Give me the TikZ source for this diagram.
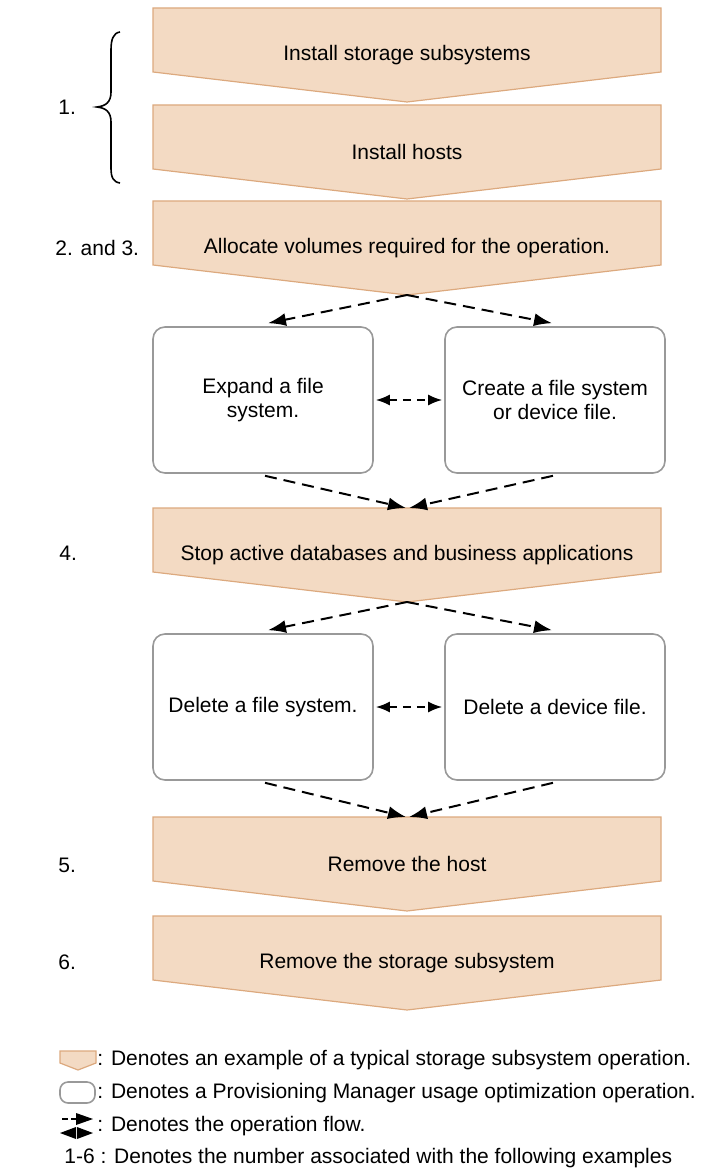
\documentclass[tikz,border=0pt]{standalone}
\usepackage{fontspec}
\setmainfont{Liberation Sans}
\usetikzlibrary{arrows.meta,calc}
\definecolor{pfill}{HTML}{F3DAC3}
\definecolor{pedge}{HTML}{DCA97E}
\definecolor{bedge}{HTML}{999999}
\newcommand{\mypent}[3]{%
  \draw[pent] (153,#2) -- (661,#2) -- (661,#2+64) -- (407,#2+94) -- (153,#2+64) -- cycle;
  \node[txt] (#1) at (407,#2+47) {#3};
  \coordinate (#1top) at (407,#2);
  \coordinate (#1tip) at (407,#2+94);
}
\begin{document}
\begin{tikzpicture}[x=0.5pt,y=-0.5pt,
  pent/.style={fill=pfill,draw=pedge,line width=0.6pt,line join=miter},
  txt/.style={font=\fontsize{10.5}{12}\selectfont,inner sep=0pt,text=black},
  lbl/.style={txt,anchor=west},
  opbox/.style={draw=bedge,line width=0.8pt,rounded corners=6pt,minimum width=110pt,
    minimum height=73pt,fill=white,align=center,inner sep=0pt,
    font=\fontsize{10.5}{12}\selectfont},
  flow/.style={dash pattern=on 6pt off 3.5pt,line width=1pt,-{Latex[length=9pt,width=6.5pt]}},
  flowboth/.style={dash pattern=on 4pt off 3pt,line width=1pt,{Latex[length=7pt,width=5.5pt]}-{Latex[length=7pt,width=5.5pt]}},
]
\useasboundingbox (0,0) rectangle (714,1170);

% pentagons
\mypent{p1}{8}{Install storage subsystems}
\mypent{p2}{105}{Install hosts}
\mypent{p3}{201}{Allocate volumes required for the operation.}
\mypent{p4}{508}{Stop active databases and business applications}
\mypent{p5}{817}{Remove the host}
\mypent{p6}{916}{Remove the storage subsystem}

% step labels
\draw[line width=0.8pt] (120,32) .. controls (113,33) and (111,40) .. (111,50) -- (111,92)
  .. controls (111,102) and (106,106) .. (97,107) .. controls (106,108) and (111,112) .. (111,122)
  -- (111,168) .. controls (111,177) and (113,182) .. (120,183);
\node[lbl] (l1) at (58,107) {1.};
\node[lbl] (l23) at (55,248) {2. and 3.};
\node[lbl] (l4) at (59,553) {4.};
\node[lbl] (l5) at (58,865) {5.};
\node[lbl] (l6) at (58,962) {6.};

% optimization boxes
\node[opbox] (b1) at (263,400) {Expand a file\\system.};
\node[opbox] (b2) at (555,400) {Create a file system\\or device file.};
\node[opbox] (b3) at (263,707) {Delete a file system.};
\node[opbox] (b4) at (555,707) {Delete a device file.};

% flows row 1
\draw[flow] (p3tip) -- ($(b1.north)+(5,-3)$);
\draw[flow] (p3tip) -- ($(b2.north)+(-3,-3)$);
\draw[flowboth] ($(b1.east)+(2,0)$) -- ($(b2.west)+(-2,0)$);
\draw[flow] ($(b1.south)+(2,2)$) -- ($(p4top)+(-1,0)$);
\draw[flow] ($(b2.south)+(-2,2)$) -- ($(p4top)+(2,0)$);

% flows row 2
\draw[flow] (p4tip) -- ($(b3.north)+(5,-3)$);
\draw[flow] (p4tip) -- ($(b4.north)+(-3,-3)$);
\draw[flowboth] ($(b3.east)+(2,0)$) -- ($(b4.west)+(-2,0)$);
\draw[flow] ($(b3.south)+(2,2)$) -- ($(p5top)+(-1,0)$);
\draw[flow] ($(b4.south)+(-2,2)$) -- ($(p5top)+(2,0)$);

% legend
\draw[pent] (60,1051) -- (96,1051) -- (96,1063) -- (78,1070) -- (60,1063) -- cycle;
\node[lbl] (lg1) at (97,1060) {: Denotes an example of a typical storage subsystem operation.};
\draw[draw=bedge,line width=0.8pt,rounded corners=4pt,fill=white] (60,1082) rectangle (95,1103);
\node[lbl] (lg2) at (97,1093) {: Denotes a Provisioning Manager usage optimization operation.};
\draw[line width=1pt] (62,1119) -- (68,1119) (71,1119) -- (76,1119);
\fill (76,1113) -- (93,1119) -- (76,1125) -- cycle;
\fill (60,1133) -- (76,1127) -- (76,1139) -- cycle;
\fill (77,1127) -- (93,1133) -- (77,1139) -- cycle;
\node[lbl] (lg3) at (97,1126) {: Denotes the operation flow.};
\node[lbl] (lg4) at (64,1158) {1-6 : Denotes the number associated with the following examples};
\end{tikzpicture}
\end{document}
